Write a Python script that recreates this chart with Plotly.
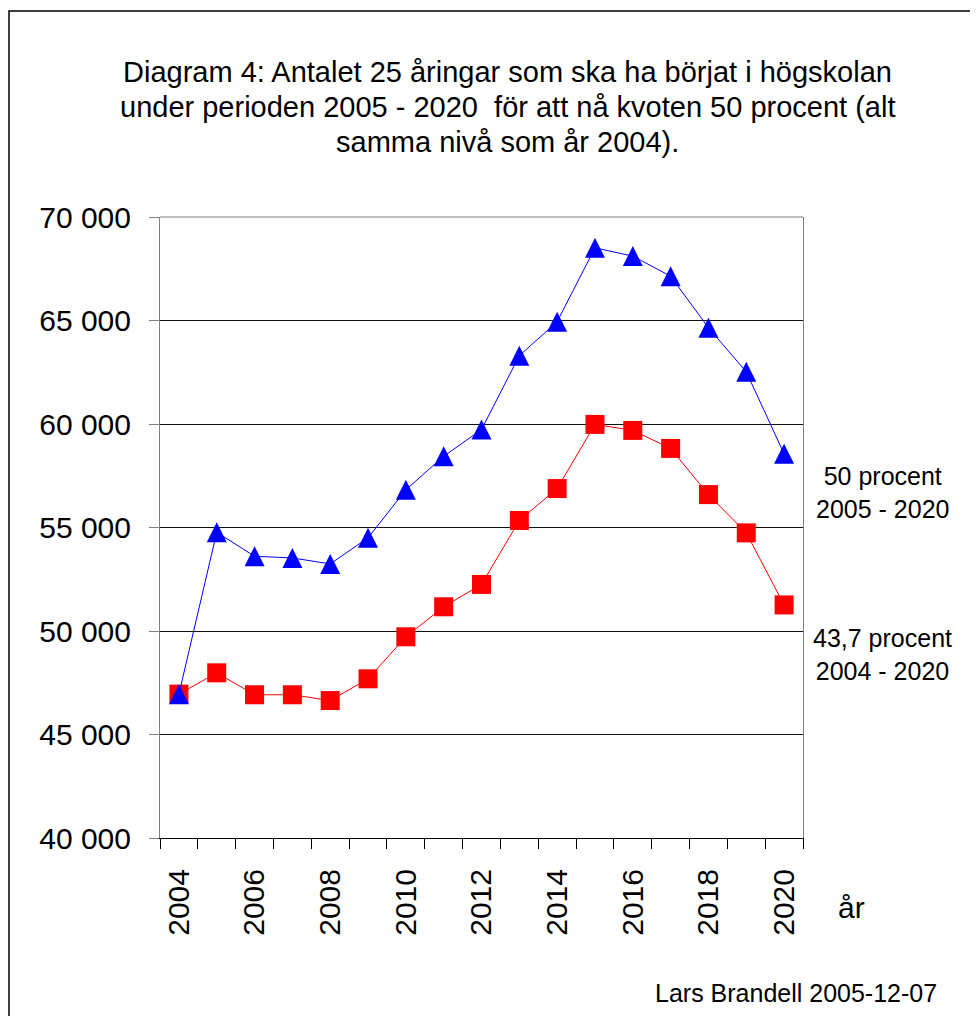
import plotly.graph_objects as go

# ---- data ----
years = list(range(2004, 2021))
series_50 = [46950, 54770, 53610, 53530, 53240, 54500, 56820, 58440, 59730,
             63300, 64940, 68510, 68110, 67140, 64650, 62520, 58560]
series_437 = [46950, 47980, 46920, 46920, 46640, 47690, 49720, 51170, 52250,
              55340, 56880, 59980, 59690, 58820, 56590, 54740, 51260]
y_ticks = [40000, 45000, 50000, 55000, 60000, 65000, 70000]
y_ticktext = ["40 000", "45 000", "50 000", "55 000", "60 000", "65 000", "70 000"]
x_label_years = list(range(2004, 2021, 2))
title_lines = [
    "Diagram 4: Antalet 25 åringar som ska ha börjat i högskolan",
    "under perioden 2005 - 2020  för att nå kvoten 50 procent (alt",
    "samma nivå som år 2004).",
]
label_50 = "50 procent<br>2005 - 2020"
label_437 = "43,7 procent<br>2004 - 2020"
credit = "Lars Brandell 2005-12-07"

# ---- layout geometry (page pixels; the page body adds an 8px offset) ----
OFF = 8
W, H = 978 - OFF, 1016 - OFF
PL, PR, PT, PB = 160, 803, 217, 838      # plot area in page pixels
L, T = PL - OFF, PT - OFF
R, B = W - (PR - OFF), H - (PB - OFF)
PW, PH = W - L - R, H - T - B
FONT = "Liberation Sans, Arial, sans-serif"


def px(x):
    return (x - OFF - L) / PW


def py(y):
    return (H - B - (y - OFF)) / PH


fig = go.Figure()
fig.add_trace(go.Scatter(
    x=years, y=series_437, mode="lines+markers", name="43,7 procent",
    line=dict(color="#FF0000", width=1),
    marker=dict(symbol="square", size=19, color="#FF0000", line=dict(width=0)),
))
fig.add_trace(go.Scatter(
    x=years, y=series_50, mode="lines+markers", name="50 procent",
    line=dict(color="#0000FF", width=1),
    marker=dict(symbol="arrow-down", angle=180, standoff=10, size=20,
                color="#0000FF", line=dict(width=0)),
))

fig.update_layout(
    width=W, height=H,
    margin=dict(l=L, r=R, t=T, b=B, pad=0),
    paper_bgcolor="white", plot_bgcolor="white",
    showlegend=False,
    font=dict(family=FONT, color="black"),
)

fig.update_xaxes(
    range=[2003.5, 2020.5],
    tickvals=x_label_years, ticktext=[str(v) for v in x_label_years],
    tickangle=-90, tickfont=dict(size=30, family=FONT, color="black"),
    ticks="", ticklabelstandoff=18,
    minor=dict(tickvals=[y + 0.5 for y in range(2003, 2021)], ticks="outside",
               ticklen=10, tickcolor="black", tickwidth=1, showgrid=False),
    showgrid=False, zeroline=False,
    showline=True, linecolor="black", linewidth=1,
)
fig.update_yaxes(
    range=[40000, 70000],
    tickvals=y_ticks, ticktext=y_ticktext,
    tickfont=dict(size=30, family=FONT, color="black"),
    ticks="outside", ticklen=10, tickcolor="#808080", tickwidth=1,
    ticklabelstandoff=12,
    showgrid=True, gridcolor="#111111", gridwidth=1,
    zeroline=False,
    showline=True, linecolor="#808080", linewidth=1, mirror=True,
)

shapes = [
    dict(type="line", xref="paper", yref="paper", x0=0, x1=1, y0=1, y1=1,
         line=dict(color="#808080", width=1), layer="above"),
    dict(type="rect", xref="paper", yref="paper",
         x0=px(9), x1=px(1000), y0=py(1040), y1=py(11),
         line=dict(color="black", width=1.5), fillcolor="rgba(0,0,0,0)"),
]
fig.update_layout(shapes=shapes)

annotations = []
for i, t in enumerate(title_lines):
    annotations.append(dict(
        text=t, xref="paper", yref="paper", x=px(507), y=py(72 + 35 * i),
        xanchor="center", yanchor="middle", showarrow=False,
        font=dict(size=29, family=FONT, color="black")))
annotations += [
    dict(text=label_50, xref="paper", yref="paper", x=px(883), y=py(492),
         xanchor="center", yanchor="middle", showarrow=False,
         font=dict(size=25, family=FONT, color="black")),
    dict(text=label_437, xref="paper", yref="paper", x=px(883), y=py(654),
         xanchor="center", yanchor="middle", showarrow=False,
         font=dict(size=25, family=FONT, color="black")),
    dict(text="år", xref="paper", yref="paper", x=px(851), y=py(907),
         xanchor="center", yanchor="middle", showarrow=False,
         font=dict(size=30, family=FONT, color="black")),
    dict(text=credit, xref="paper", yref="paper", x=px(939), y=py(993),
         xanchor="right", yanchor="middle", showarrow=False,
         font=dict(size=25, family=FONT, color="black")),
]
fig.update_layout(annotations=annotations)

fig.write_html("out.html")
